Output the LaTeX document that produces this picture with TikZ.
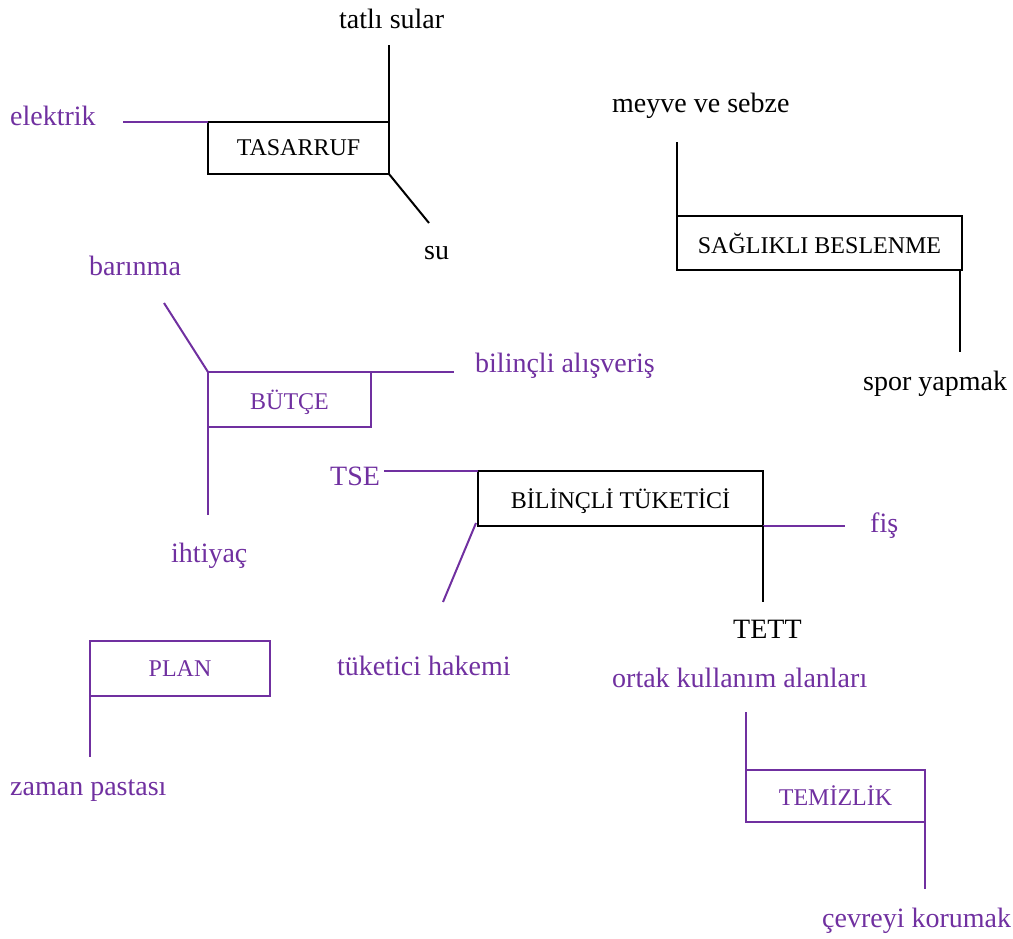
\documentclass[tikz,border=0pt]{standalone}
\usepackage{fontspec}
\setmainfont{Liberation Serif}
\definecolor{mor}{HTML}{7030A0}
\begin{document}
\begin{tikzpicture}[x=1pt,y=-1pt,
  box/.style={draw,line width=2pt,inner sep=0pt,outer sep=0pt,font=\fontsize{24}{27}\selectfont},
  lbl/.style={inner sep=0pt,anchor=base west,font=\fontsize{28}{30}\selectfont},
  link/.style={line width=2pt},
  every node/.append style={text depth=0pt}]
\useasboundingbox (0,0) rectangle (1013,938);

% --- TASARRUF ---
\node[box,minimum width=181pt,minimum height=52pt] (tas) at (298.5,148) {TASARRUF};
\node[lbl] (tatli) at (339,28) {tatlı sular};
\node[lbl,text=mor] (elek) at (10,125) {elektrik};
\node[lbl] (su) at (424,259) {su};
\coordinate (tasN) at (389,45);
\coordinate (tasW) at (123,122);
\coordinate (tasS) at (429,223);
\draw[link] (tas.north east) -- (tasN);
\draw[link,mor] (tas.north west) -- (tasW);
\draw[link] (tas.south east) -- (tasS);

% --- SAĞLIKLI BESLENME ---
\node[box,minimum width=285pt,minimum height=54pt] (sag) at (819.5,243) {SAĞLIKLI BESLENME};
\node[lbl] (meyve) at (612,112) {meyve ve sebze};
\node[lbl] (spor) at (863,390) {spor yapmak};
\coordinate (sagN) at (677,142);
\coordinate (sagS) at (960,352);
\draw[link] (sag.north west) -- (sagN);
\draw[link] (960,270) -- (sagS);

% --- BÜTÇE ---
\node[box,draw=mor,text=mor,minimum width=163pt,minimum height=55pt] (but) at (289.5,399.5) {BÜTÇE};
\node[lbl,text=mor] (barin) at (89,275) {barınma};
\node[lbl,text=mor] (alis) at (475,372) {bilinçli alışveriş};
\node[lbl,text=mor] (iht) at (171,562) {ihtiyaç};
\coordinate (butNW) at (164,303);
\coordinate (butE) at (454,372);
\coordinate (butS) at (208,515);
\draw[link,mor] (but.north west) -- (butNW);
\draw[link,mor] (but.north east) -- (butE);
\draw[link,mor] (but.south west) -- (butS);

% --- BİLİNÇLİ TÜKETİCİ ---
\node[box,minimum width=285pt,minimum height=55pt] (bil) at (620.5,498.5) {BİLİNÇLİ TÜKETİCİ};
\node[lbl,text=mor] (tse) at (330,485) {TSE};
\node[lbl,text=mor] (hakem) at (337,675) {tüketici hakemi};
\node[lbl,text=mor] (fis) at (870,532) {fiş};
\node[lbl] (tett) at (733,638) {TETT};
\coordinate (bilW) at (384,471);
\coordinate (bilSW) at (443,602);
\coordinate (bilE) at (845,526);
\coordinate (bilS) at (763,602);
\draw[link,mor] (bil.north west) -- (bilW);
\draw[link,mor] (476,523) -- (bilSW);
\draw[link,mor] (bil.south east) -- (bilE);
\draw[link] (bil.south east) -- (bilS);

% --- PLAN ---
\node[box,draw=mor,text=mor,minimum width=180pt,minimum height=55pt] (plan) at (180,668.5) {PLAN};
\node[lbl,text=mor] (zaman) at (10,795) {zaman pastası};
\coordinate (planS) at (90,757);
\draw[link,mor] (plan.south west) -- (planS);

% --- TEMİZLİK ---
\node[box,draw=mor,text=mor,minimum width=179pt,minimum height=52pt] (tem) at (835.5,796) {TEMİZLİK};
\node[lbl,text=mor] (ortak) at (612,687) {ortak kullanım alanları};
\node[lbl,text=mor] (cevre) at (822,927) {çevreyi korumak};
\coordinate (temN) at (746,712);
\coordinate (temS) at (925,889);
\draw[link,mor] (tem.north west) -- (temN);
\draw[link,mor] (925,813) -- (temS);
\end{tikzpicture}
\end{document}
